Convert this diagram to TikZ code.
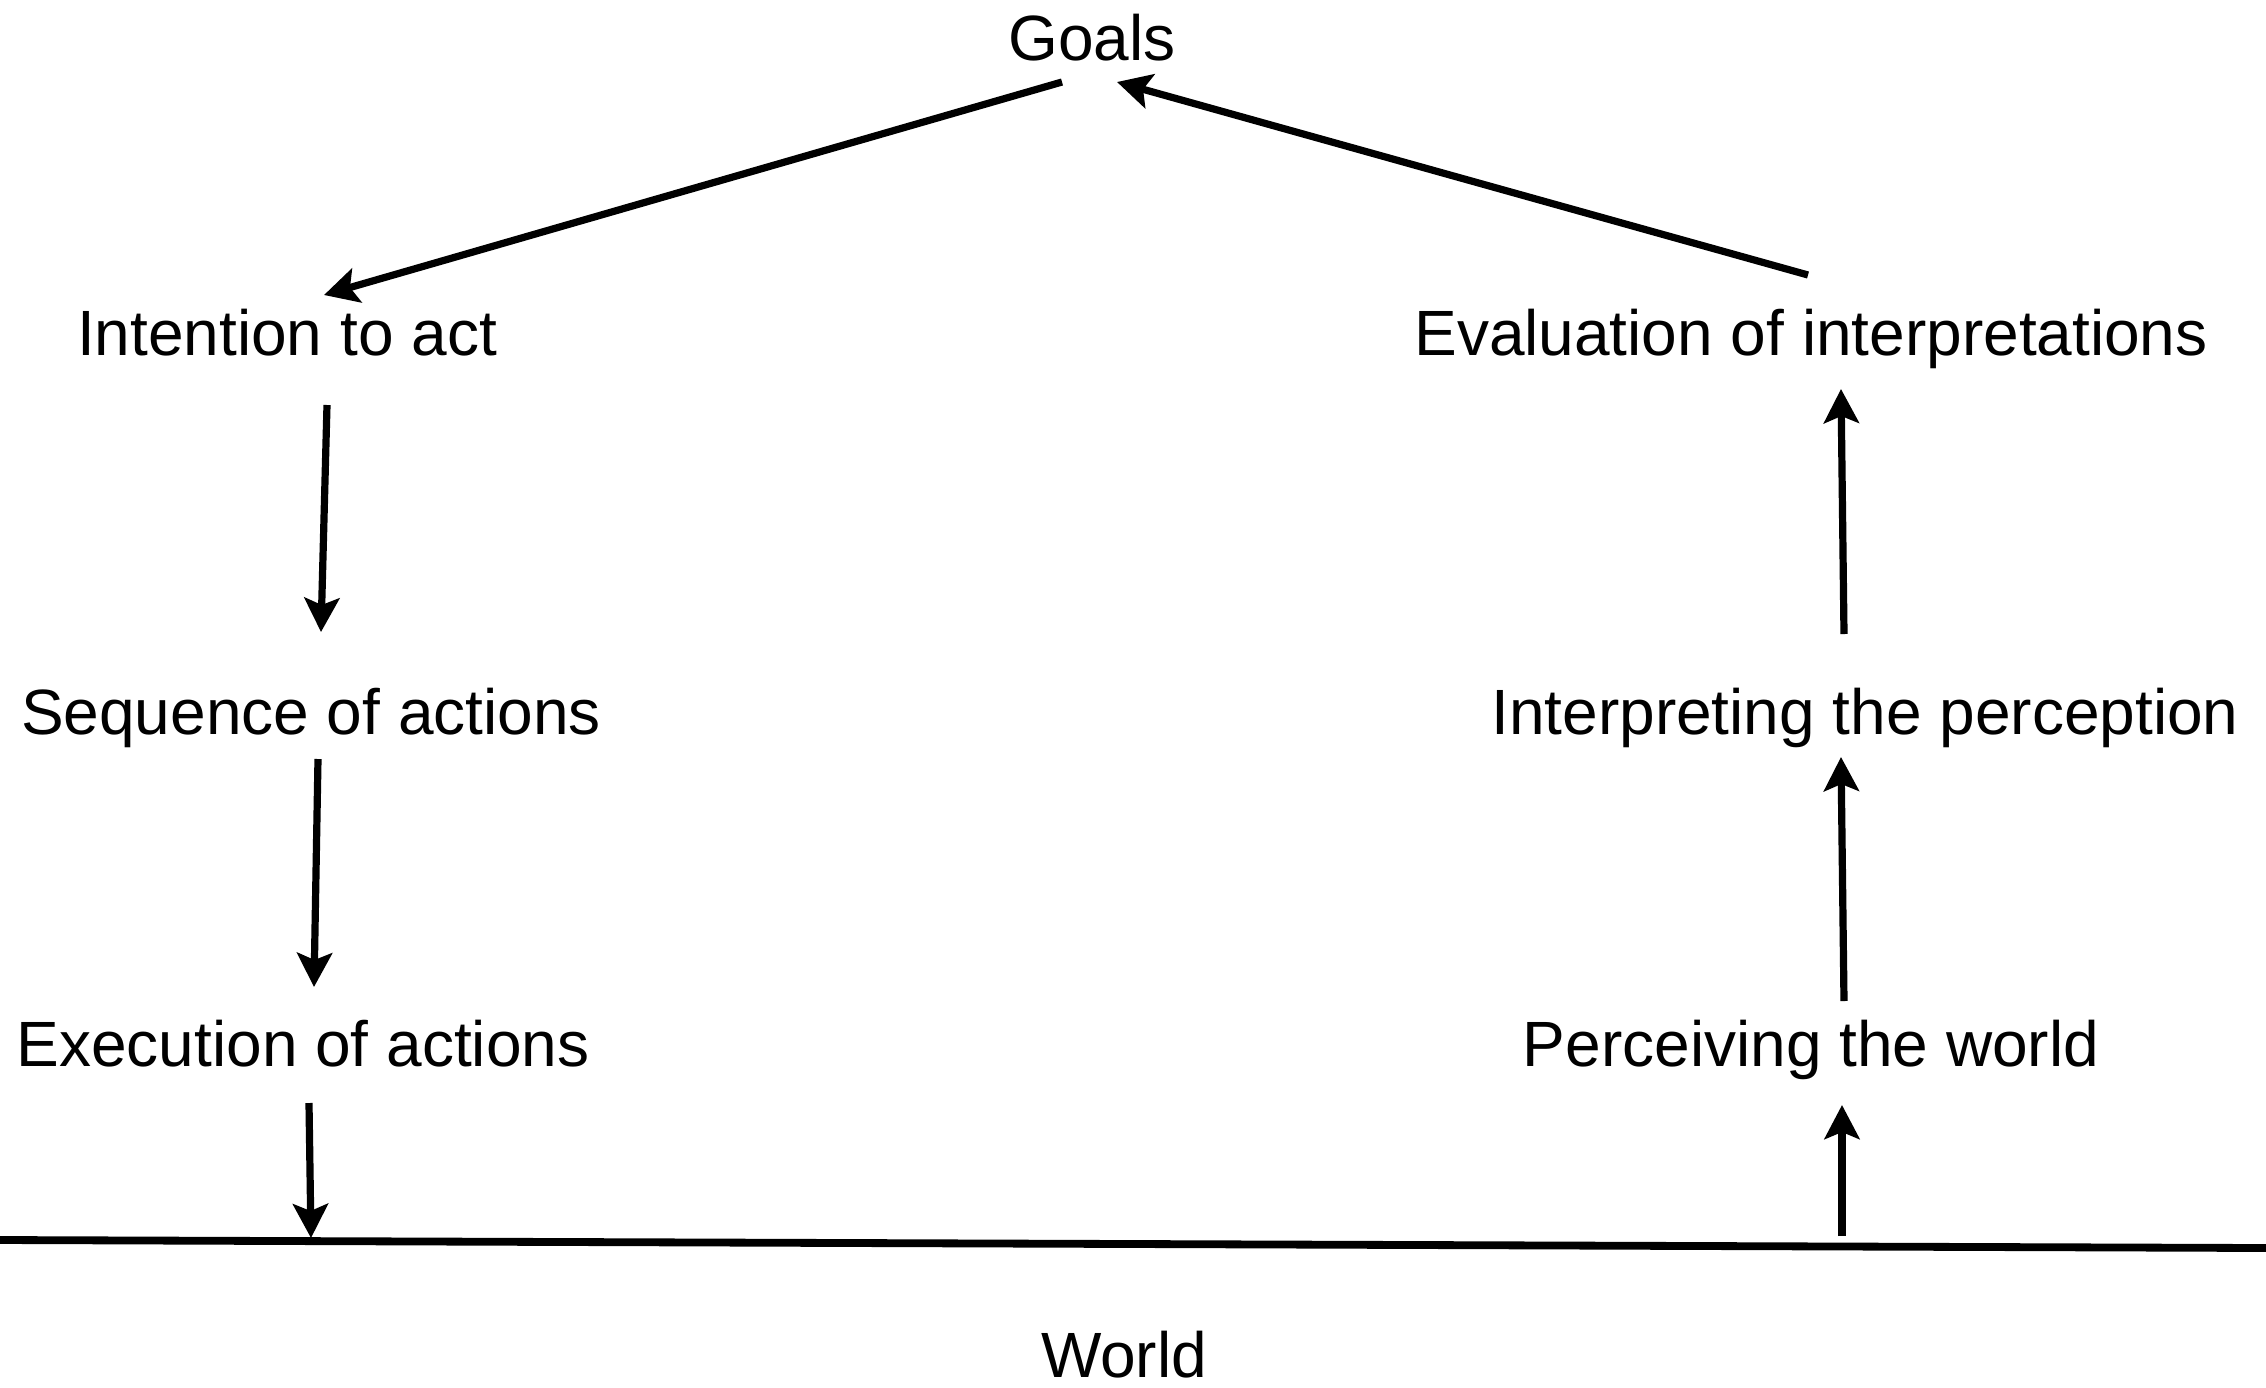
\documentclass[tikz,border=0pt]{standalone}
\usepackage{fontspec}
\setmainfont{Liberation Sans}
\usetikzlibrary{arrows.meta}
\begin{document}
\begin{tikzpicture}[x=0.01cm,y=-0.01cm,
  label/.style={inner sep=0pt,anchor=base,font=\fontsize{18.2}{21}\selectfont},
  flow/.style={line width=0.072cm,-{Stealth[length=0.34cm,width=0.35cm,inset=0.07cm]}},
  ground/.style={line width=0.078cm}]
\useasboundingbox (0,0) rectangle (2266,1387);

% stage labels
\node[label] (goals)   at (1092,60)   {Goals};
\node[label] (intent)  at (287,355)   {Intention to act};
\node[label] (seq)     at (311,734)   {Sequence of actions};
\node[label] (exec)    at (303,1066)  {Execution of actions};
\node[label] (eval)    at (1811,355)  {Evaluation of interpretations};
\node[label] (interp)  at (1865,734)  {Interpreting the perception};
\node[label] (percv)   at (1811,1066) {Perceiving the world};
\node[label] (world)   at (1124,1377) {World};

% the world line
\coordinate (wl) at (0,1240);
\coordinate (wr) at (2266,1248);
\draw[ground] (wl) -- (wr);

% connector end points
\coordinate (goals-out) at (1062,82);
\coordinate (intent-in) at (324,295);
\coordinate (eval-out)  at (1808,275);
\coordinate (goals-in)  at (1117,82);
\coordinate (intent-out) at (327,405);
\coordinate (seq-in)    at (321,632);
\coordinate (seq-out)   at (318,759);
\coordinate (exec-in)   at (314,987);
\coordinate (exec-out)  at (309,1103);
\coordinate (world-in)  at (311,1238);
\coordinate (world-out) at (1842,1236);
\coordinate (percv-in)  at (1842,1105);
\coordinate (percv-out) at (1844,1001);
\coordinate (interp-in) at (1841,757);
\coordinate (interp-out) at (1844,634);
\coordinate (eval-in)   at (1841,389);

% execution side
\draw[flow] (goals-out) -- (intent-in);
\draw[flow] (intent-out) -- (seq-in);
\draw[flow] (seq-out) -- (exec-in);
\draw[flow] (exec-out) -- (world-in);

% evaluation side
\draw[flow] (world-out) -- (percv-in);
\draw[flow] (percv-out) -- (interp-in);
\draw[flow] (interp-out) -- (eval-in);
\draw[flow] (eval-out) -- (goals-in);
\end{tikzpicture}
\end{document}
